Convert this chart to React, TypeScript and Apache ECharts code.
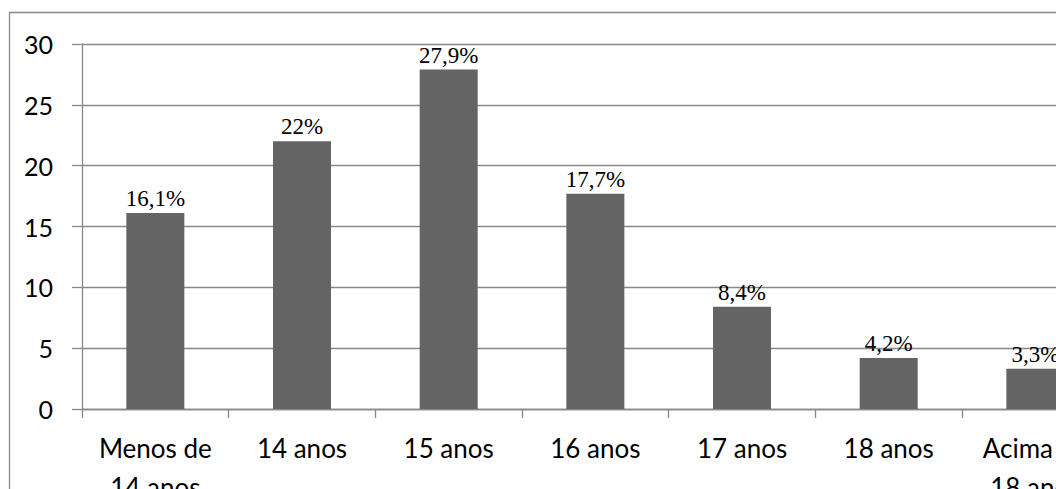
import React, { useEffect, useRef } from "react";
import * as echarts from "echarts";

const categories = ["Menos de\n14 anos", "14 anos", "15 anos", "16 anos", "17 anos", "18 anos", "Acima de\n18 anos"];
const values = [16.1, 22, 27.9, 17.7, 8.4, 4.2, 3.3];
const yMin = 0;
const yMax = 30;
const yInterval = 5;

export default function App() {
  const ref = useRef<HTMLDivElement>(null);
  useEffect(() => {
    if (!ref.current) return;
    const chart = echarts.init(ref.current, null, { renderer: "svg" });
    const W = 1120;
    const H = 520;
    const gridLeft = 82;
    const gridTop = 44;
    const gridWidth = 1026.7;
    const gridHeight = 365;
    chart.setOption({
      animation: false,
      backgroundColor: "#ffffff",
      graphic: [
        {
          type: "rect",
          shape: { x: 9.5, y: 12.5, width: W - 14, height: H - 16 },
          style: { fill: "none", stroke: "#888888", lineWidth: 1.3 },
          silent: true,
        },
      ],
      grid: {
        left: gridLeft,
        top: gridTop,
        right: W - gridLeft - gridWidth,
        bottom: H - gridTop - gridHeight,
        containLabel: false,
      },
      xAxis: {
        type: "category",
        data: categories,
        axisLine: { show: true, lineStyle: { color: "#888888", width: 1.3 } },
        axisTick: { show: true, length: 9, alignWithLabel: false, lineStyle: { color: "#888888", width: 1.3 } },
        axisLabel: {
          interval: 0,
          color: "#000000",
          fontFamily: "Lato",
          fontSize: 26,
          lineHeight: 39,
          margin: 19,
        },
      },
      yAxis: {
        type: "value",
        min: yMin,
        max: yMax,
        interval: yInterval,
        axisLine: { show: true, lineStyle: { color: "#888888", width: 1.3 } },
        axisTick: { show: true, length: 10, lineStyle: { color: "#888888", width: 1.3 } },
        splitLine: { show: true, lineStyle: { color: "#888888", width: 1.3 } },
        axisLabel: {
          color: "#000000",
          fontFamily: "Lato",
          fontSize: 25,
          margin: 29,
        },
      },
      series: [
        {
          type: "bar",
          data: values,
          barWidth: 58,
          itemStyle: { color: "#646464" },
          label: {
            show: true,
            position: "top",
            distance: 3,
            color: "#000000",
            fontFamily: "Liberation Serif",
            fontSize: 23,
            formatter: (p: any) => String(p.value).replace(".", ",") + "%",
          },
        },
      ],
    });
    return () => chart.dispose();
  }, []);
  return (
    <div style={{ position: "fixed", left: 0, top: 0, width: 1056, height: 489, overflow: "hidden", background: "#fff" }}>
      <div ref={ref} style={{ width: 1120, height: 520 }} />
    </div>
  );
}
